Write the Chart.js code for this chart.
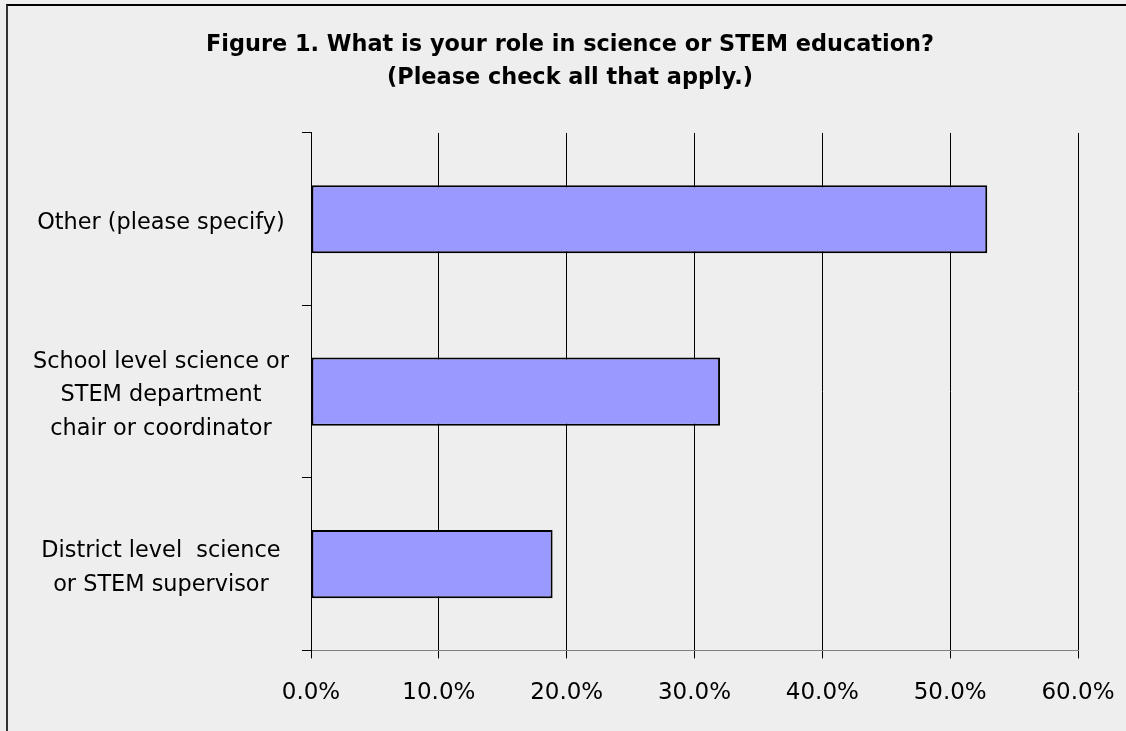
<!DOCTYPE html>
<html>
<head>
<meta charset="utf-8">
<script src="https://cdn.jsdelivr.net/npm/chart.js@4.4.1/dist/chart.umd.min.js"></script>
<style>
  html, body { margin: 0; padding: 0; background: #eeeeee; overflow: hidden; }
  #frame { position: absolute; left: 6px; top: 4px; width: 2000px; height: 2000px;
           border-left: 2px solid #333333; border-top: 2px solid #000000; }
  #chart { position: absolute; left: 0; top: 0; }
</style>
</head>
<body>
<div id="frame"></div>
<!-- canvas is a bit wider than the window so the title centre lands where it should -->
<canvas id="chart" width="1140" height="731"></canvas>
<script>
const titleLines = ["Figure 1. What is your role in science or STEM education?", "(Please check all that apply.)"];
const roles = [
  ["Other (please specify)"],
  ["School level science or", "STEM department", "chair or coordinator"],
  ["District level  science", "or STEM supervisor"]
];
const percents = [52.9, 32.0, 18.9];
const xTicks = [0, 10, 20, 30, 40, 50, 60];

const font = "'DejaVu Sans', sans-serif";

new Chart("chart", {
  type: "bar",
  data: {
    labels: roles,
    datasets: [{
      data: percents,
      backgroundColor: "#9999ff",
      borderColor: "#000000",
      borderWidth: 2,
      borderSkipped: false,
      barPercentage: 0.395,
      categoryPercentage: 1
    }]
  },
  options: {
    indexAxis: "y",
    responsive: false,
    animation: false,
    devicePixelRatio: 1,
    layout: { padding: { left: 0, right: 0, top: 0, bottom: 3 } },
    plugins: {
      legend: { display: false },
      tooltip: { enabled: false },
      title: {
        display: true,
        text: titleLines,
        color: "#000000",
        font: { family: font, size: 22.4, weight: "bold", lineHeight: 1.45 },
        padding: { top: 29, bottom: 39 }
      }
    },
    scales: {
      x: {
        min: xTicks[0],
        max: xTicks[xTicks.length - 1],
        afterBuildTicks: (scale) => { scale.ticks = xTicks.map(v => ({ value: v })); },
        grid: { color: "#000000", lineWidth: 1, tickLength: 8, drawTicks: true },
        border: { color: "#808080", width: 1 },
        ticks: {
          color: "#000000",
          font: { family: font, size: 23 },
          padding: 21,
          callback: (v) => v.toFixed(1) + "%"
        }
      },
      y: {
        afterFit: (scale) => { scale.width = 311; },
        grid: { offset: true, drawOnChartArea: false, color: "#000000", tickLength: 9 },
        border: { color: "#000000", width: 1 },
        ticks: {
          color: "#000000",
          crossAlign: "center",
          padding: 13,
          labelOffset: 4,
          font: { family: font, size: 22.4, lineHeight: 1.48 }
        }
      },
      // empty box on the right, keeps the plot edge at 60%
      yRight: {
        type: "category",
        position: "right",
        grid: { display: false },
        border: { display: false },
        ticks: { display: false },
        afterFit: (scale) => { scale.width = 62; }
      }
    }
  }
});
</script>
</body>
</html>
